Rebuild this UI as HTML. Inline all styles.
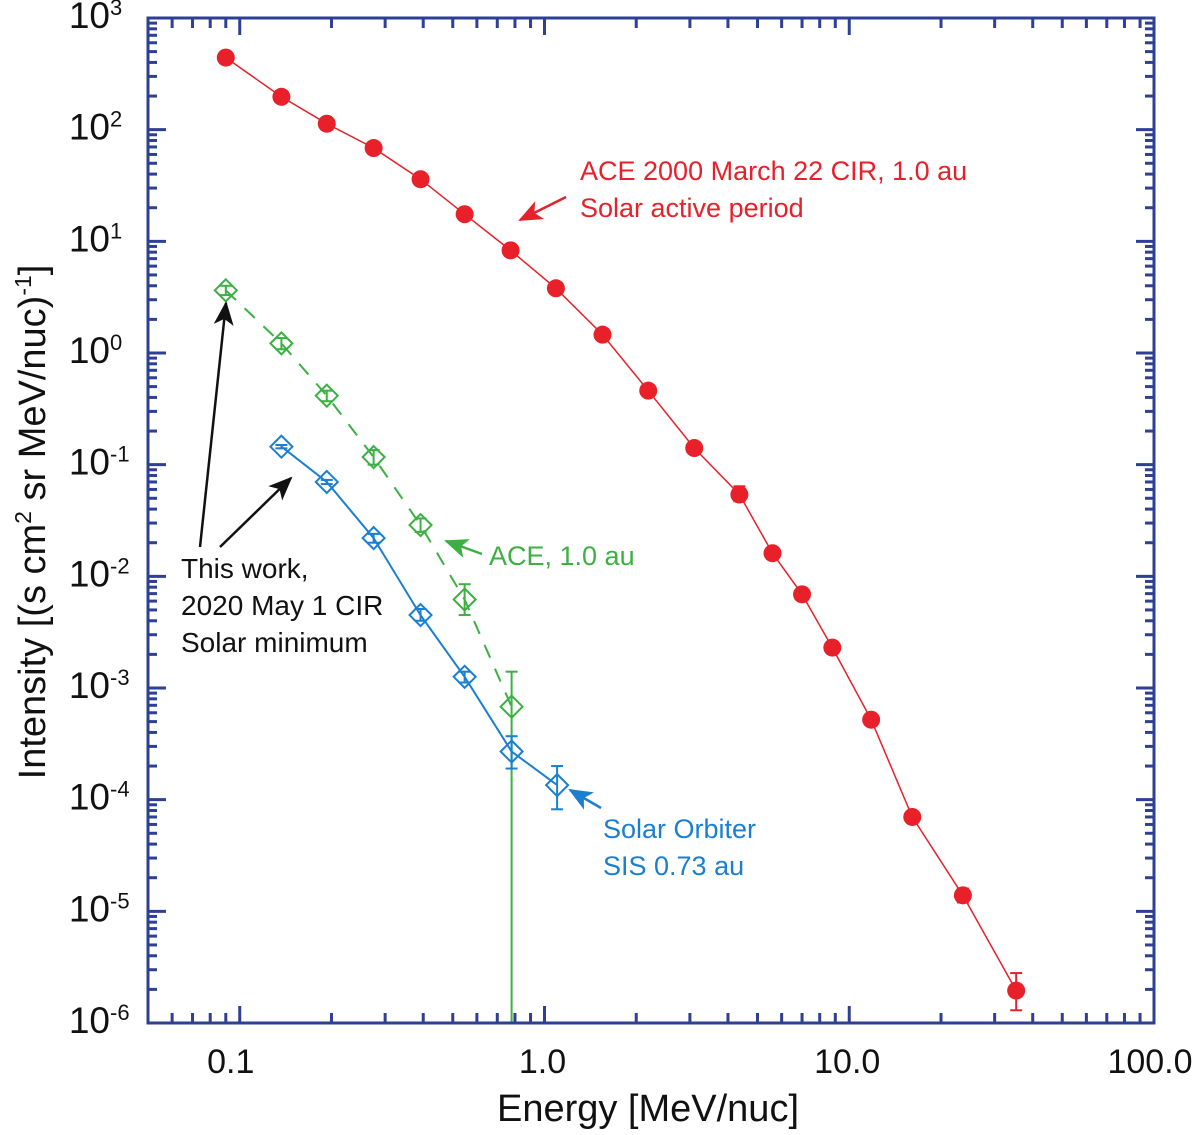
<!DOCTYPE html>
<html><head><meta charset="utf-8">
<style>
html,body{margin:0;padding:0;background:#fff;}
svg{display:block;font-family:"Liberation Sans",sans-serif;}
</style></head>
<body>
<svg id="chart" width="1200" height="1135" viewBox="0 0 1200 1135" xmlns="http://www.w3.org/2000/svg">
<g id="series-layer"></g>
<g id="axes-layer"></g>
<g id="labels-layer"></g>
</svg>
<script>
// ---- data ----
const redEnergy = [0.090,0.137,0.193,0.275,0.392,0.547,0.774,1.09,1.55,2.19,3.10,4.36,5.6,7.0,8.8,11.8,16.1,23.6,35.3];
const redIntensity = [442,197,113,68.5,36,17.5,8.3,3.8,1.46,0.46,0.141,0.054,0.0161,0.0069,0.0023,5.2e-4,7.0e-5,1.39e-5,1.95e-6];
const redErrLow = [null,null,null,null,null,null,null,null,null,null,null,0.047,null,null,null,null,null,1.2e-5,1.3e-6];
const redErrHigh = [null,null,null,null,null,null,null,null,null,null,null,0.064,null,null,null,null,null,1.6e-5,2.8e-6];
const greenEnergy = [0.090,0.137,0.193,0.275,0.392,0.547,0.78];
const greenIntensity = [3.64,1.22,0.415,0.117,0.0288,0.0062,6.8e-4];
const greenErrLow = [3.3,1.08,0.37,0.10,0.025,0.0045,1e-6];
const greenErrHigh = [4.0,1.36,0.46,0.135,0.033,0.0085,1.4e-3];
const blueEnergy = [0.137,0.193,0.275,0.392,0.547,0.78,1.10];
const blueIntensity = [0.145,0.070,0.022,0.0045,0.00126,2.7e-4,1.35e-4];
const blueErrLow = [0.140,0.067,0.020,0.0040,0.00112,1.9e-4,8.2e-5];
const blueErrHigh = [0.150,0.073,0.024,0.0051,0.00140,3.7e-4,2.0e-4];
const xTickLabels = ["0.1","1.0","10.0","100.0"];
const xTickValues = [0.1,1,10,100];
const yTickExponents = [3,2,1,0,-1,-2,-3,-4,-5,-6];

// ---- axes ----
const L=148,R=1154,T=18,B=1023;
const xMin=Math.log10(0.05),xMax=2,yMin=-6,yMax=3;
const xs=v=>L+(Math.log10(v)-xMin)/(xMax-xMin)*(R-L);
const ys=v=>B-(Math.log10(v)-yMin)/(yMax-yMin)*(B-T);
const NS="http://www.w3.org/2000/svg";
function mk(tag,attrs,parent){const e=document.createElementNS(NS,tag);for(const k in attrs)e.setAttribute(k,attrs[k]);parent.appendChild(e);return e;}
const series=document.getElementById('series-layer');
const axes=document.getElementById('axes-layer');
const labels=document.getElementById('labels-layer');
const AX="#2e3f94";

let fr=mk('rect',{x:L,y:T,width:R-L,height:B-T,fill:'none',stroke:AX,'stroke-width':3},axes);



for(let d=-2;d<=1;d++){for(let m=1;m<=9;m++){const v=m*Math.pow(10,d);if(v<0.05||v>100)continue;const x=xs(v);const len=m===1?17:10;
 mk('line',{x1:x,y1:B,x2:x,y2:B-len,stroke:AX,'stroke-width':3},axes);
 mk('line',{x1:x,y1:T,x2:x,y2:T+len,stroke:AX,'stroke-width':3},axes);}}
for(let d=-6;d<=2;d++){for(let m=1;m<=9;m++){const v=m*Math.pow(10,d);const y=ys(v);const len=m===1?18:9;
 mk('line',{x1:L,y1:y,x2:L+len,y2:y,stroke:AX,'stroke-width':3},axes);
 mk('line',{x1:R,y1:y,x2:R-len,y2:y,stroke:AX,'stroke-width':3},axes);}}

xTickValues.forEach((v,i)=>{const t=mk('text',{x:xs(v)-(i===0?9:i===3?4:2),y:1073,'font-size':34,'text-anchor':'middle',fill:'#111'},labels);t.textContent=xTickLabels[i];
 
 });
yTickExponents.forEach(e=>{const y=ys(Math.pow(10,e));const t=mk('text',{x:110,y:y+10,'font-size':37,'text-anchor':'end',fill:'#111'},labels);t.textContent='10';
 
 
 const s=mk('text',{x:110,y:y-3,'font-size':22,'text-anchor':'start',fill:'#111'},labels);s.textContent=String(e);});

function line(E,I,color,w,dash,name){const pts=E.map((e,i)=>xs(e).toFixed(1)+','+ys(I[i]).toFixed(1)).join(' ');
 const p=mk('polyline',{points:pts,fill:'none',stroke:color,'stroke-width':w},series);if(dash)p.setAttribute('stroke-dasharray',dash);
 
 }
function errs(E,lo,hi,color,name){E.forEach((e,i)=>{if(lo[i]==null)return;const x=xs(e),y1=Math.min(ys(lo[i]),B),y2=ys(hi[i]);
 const g=mk('g',{stroke:color,'stroke-width':2},series);
 
 
 mk('line',{x1:x,y1:y1,x2:x,y2:y2},g);mk('line',{x1:x-6,y1:y1,x2:x+6,y2:y1},g);mk('line',{x1:x-6,y1:y2,x2:x+6,y2:y2},g);});}

line(redEnergy,redIntensity,'#e8202a',1.5,null,'ace-2000-line');
errs(redEnergy,redErrLow,redErrHigh,'#e8202a','ace-2000-error-bar');
redEnergy.forEach((e,i)=>{const c=mk('circle',{cx:xs(e),cy:ys(redIntensity[i]),r:9,fill:'#e8202a'},series);
 
 });

line(greenEnergy,greenIntensity,'#3cb043',2,'14,12','ace-2020-line');
errs(greenEnergy,greenErrLow,greenErrHigh,'#3cb043','ace-2020-error-bar');
greenEnergy.forEach((e,i)=>{const x=xs(e),y=ys(greenIntensity[i]),h=11;
 const p=mk('polygon',{points:`${x},${y-h} ${x+h},${y} ${x},${y+h} ${x-h},${y}`,fill:'none',stroke:'#3cb043','stroke-width':2},series);
 
 });

line(blueEnergy,blueIntensity,'#1a7fd0',2,null,'solar-orbiter-line');
errs(blueEnergy,blueErrLow,blueErrHigh,'#1a7fd0','solar-orbiter-error-bar');
blueEnergy.forEach((e,i)=>{const x=xs(e),y=ys(blueIntensity[i]),h=11;
 const p=mk('polygon',{points:`${x},${y-h} ${x+h},${y} ${x},${y+h} ${x-h},${y}`,fill:'none',stroke:'#1a7fd0','stroke-width':2},series);
 
 });
</script>

<svg style="position:absolute;left:0;top:0" width="1200" height="1135" viewBox="0 0 1200 1135" xmlns="http://www.w3.org/2000/svg" font-family="Liberation Sans, sans-serif">
<defs>
<marker id="aK" markerWidth="24" markerHeight="20" refX="22" refY="10" orient="auto" markerUnits="userSpaceOnUse"><path d="M0,0 L24,10 L0,20 L6,10z" fill="#111"/></marker>
<marker id="aR" markerWidth="24" markerHeight="20" refX="22" refY="10" orient="auto" markerUnits="userSpaceOnUse"><path d="M0,0 L24,10 L0,20 L6,10z" fill="#e8202a"/></marker>
<marker id="aG" markerWidth="24" markerHeight="20" refX="22" refY="10" orient="auto" markerUnits="userSpaceOnUse"><path d="M0,0 L24,10 L0,20 L6,10z" fill="#3cb043"/></marker>
<marker id="aB" markerWidth="24" markerHeight="20" refX="22" refY="10" orient="auto" markerUnits="userSpaceOnUse"><path d="M0,0 L24,10 L0,20 L6,10z" fill="#1a7fd0"/></marker>
</defs>
<g>
<text x="580" y="180" font-size="27" fill="#e8202a">ACE 2000 March 22 CIR, 1.0 au</text>
<text x="580" y="217" font-size="27" fill="#e8202a">Solar active period</text>
<line x1="566" y1="197" x2="520" y2="220" stroke="#e8202a" stroke-width="2.5" marker-end="url(#aR)"/>
</g>
<g>
<text x="489" y="565" font-size="27" fill="#3cb043">ACE, 1.0 au</text>
<line x1="482" y1="554" x2="446" y2="541" stroke="#3cb043" stroke-width="2.5" marker-end="url(#aG)"/>
</g>
<g>
<text x="181" y="578" font-size="28" fill="#111">This work,</text>
<text x="181" y="615" font-size="28" fill="#111">2020 May 1 CIR</text>
<text x="181" y="652" font-size="28" fill="#111">Solar minimum</text>
<line x1="200" y1="547" x2="226" y2="303" stroke="#111" stroke-width="2.5" marker-end="url(#aK)"/>
<line x1="220" y1="547" x2="291" y2="478" stroke="#111" stroke-width="2.5" marker-end="url(#aK)"/>
</g>
<g>
<text x="603" y="838" font-size="27" fill="#1a7fd0">Solar Orbiter</text>
<text x="603" y="875" font-size="27" fill="#1a7fd0">SIS 0.73 au</text>
<line x1="601" y1="808" x2="570" y2="790" stroke="#1a7fd0" stroke-width="2.5" marker-end="url(#aB)"/>
</g>
<text x="648" y="1121" font-size="38" text-anchor="middle" fill="#111">Energy [MeV/nuc]</text>
<text transform="translate(45,522) rotate(-90)" font-size="38" text-anchor="middle" fill="#111">Intensity [(s cm<tspan font-size="23" dy="-14">2</tspan><tspan dy="14"> sr MeV/nuc)</tspan><tspan font-size="23" dy="-14">-1</tspan><tspan dy="14">]</tspan></text>
</svg>
</body></html>
